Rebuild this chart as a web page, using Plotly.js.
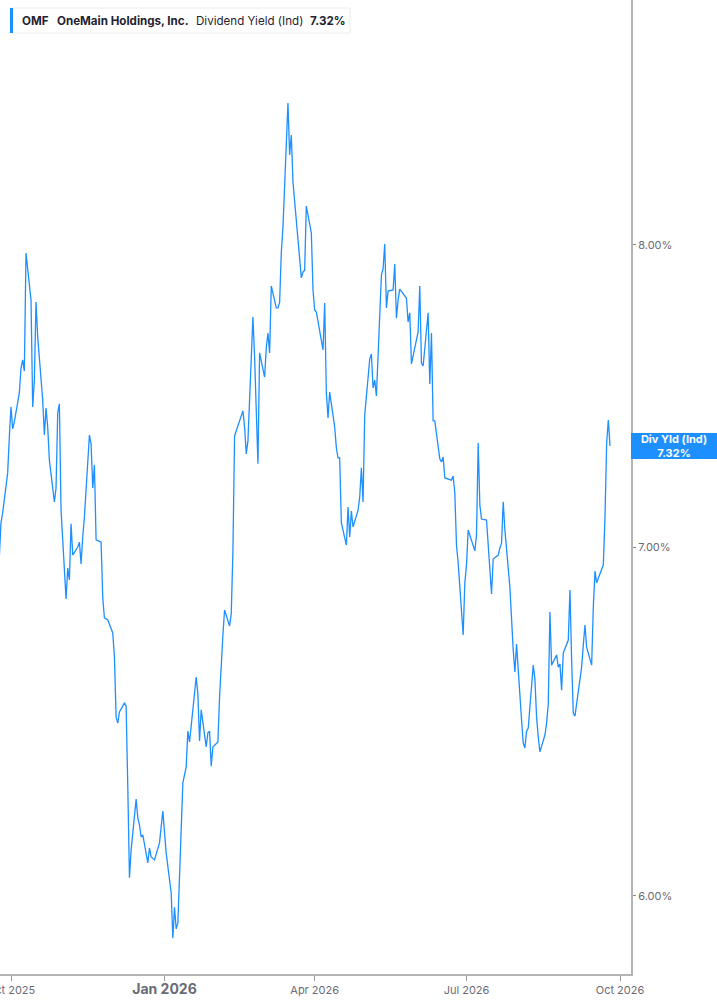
<!DOCTYPE html>
<html>
<head>
<meta charset="utf-8">
<script src="https://cdn.plot.ly/plotly-3.0.1.min.js"></script>
<style>
  html, body { margin: 0; padding: 0; background: #ffffff; }
  #chart { width: 717px; height: 1005px; }
</style>
</head>
<body>
<div id="chart"></div>
<script>
// Trading dates (Sep 24, 2025 – Sep 25, 2026)
const dates = [
  '2025-09-24','2025-09-25','2025-09-26','2025-09-29','2025-09-30',
  '2025-10-01','2025-10-02','2025-10-03','2025-10-06','2025-10-07','2025-10-08','2025-10-09','2025-10-10','2025-10-13','2025-10-14','2025-10-15','2025-10-16','2025-10-17','2025-10-20','2025-10-21','2025-10-22','2025-10-23','2025-10-24','2025-10-27','2025-10-28','2025-10-29','2025-10-30','2025-10-31',
  '2025-11-03','2025-11-04','2025-11-05','2025-11-06','2025-11-07','2025-11-10','2025-11-11','2025-11-12','2025-11-13','2025-11-14','2025-11-17','2025-11-18','2025-11-19','2025-11-20','2025-11-21','2025-11-24','2025-11-25','2025-11-26','2025-11-28',
  '2025-12-01','2025-12-02','2025-12-03','2025-12-04','2025-12-05','2025-12-08','2025-12-09','2025-12-10','2025-12-11','2025-12-12','2025-12-15','2025-12-16','2025-12-17','2025-12-18','2025-12-19','2025-12-22','2025-12-23','2025-12-24','2025-12-26','2025-12-29','2025-12-30','2025-12-31',
  '2026-01-02','2026-01-05','2026-01-06','2026-01-07','2026-01-08','2026-01-09','2026-01-12','2026-01-13','2026-01-14','2026-01-15','2026-01-16','2026-01-20','2026-01-21','2026-01-22','2026-01-23','2026-01-26','2026-01-27','2026-01-28','2026-01-29','2026-01-30',
  '2026-02-02','2026-02-03','2026-02-04','2026-02-05','2026-02-06','2026-02-09','2026-02-10','2026-02-11','2026-02-12','2026-02-13','2026-02-17','2026-02-18','2026-02-19','2026-02-20','2026-02-23','2026-02-24','2026-02-25','2026-02-26','2026-02-27',
  '2026-03-02','2026-03-03','2026-03-04','2026-03-05','2026-03-06','2026-03-09','2026-03-10','2026-03-11','2026-03-12','2026-03-13','2026-03-16','2026-03-17','2026-03-18','2026-03-19','2026-03-20','2026-03-23','2026-03-24','2026-03-25','2026-03-26','2026-03-27','2026-03-30','2026-03-31',
  '2026-04-01','2026-04-02','2026-04-06','2026-04-07','2026-04-08','2026-04-09','2026-04-10','2026-04-13','2026-04-14','2026-04-15','2026-04-16','2026-04-17','2026-04-20','2026-04-21','2026-04-22','2026-04-23','2026-04-24','2026-04-27','2026-04-28','2026-04-29','2026-04-30',
  '2026-05-01','2026-05-04','2026-05-05','2026-05-06','2026-05-07','2026-05-08','2026-05-11','2026-05-12','2026-05-13','2026-05-14','2026-05-15','2026-05-18','2026-05-19','2026-05-20','2026-05-21','2026-05-22','2026-05-26','2026-05-27','2026-05-28','2026-05-29',
  '2026-06-01','2026-06-02','2026-06-03','2026-06-04','2026-06-05','2026-06-08','2026-06-09','2026-06-10','2026-06-11','2026-06-12','2026-06-15','2026-06-16','2026-06-17','2026-06-18','2026-06-22','2026-06-23','2026-06-24','2026-06-25','2026-06-26','2026-06-29','2026-06-30',
  '2026-07-01','2026-07-02','2026-07-06','2026-07-07','2026-07-08','2026-07-09','2026-07-10','2026-07-13','2026-07-14','2026-07-15','2026-07-16','2026-07-17','2026-07-20','2026-07-21','2026-07-22','2026-07-23','2026-07-24','2026-07-27','2026-07-28','2026-07-29','2026-07-30','2026-07-31',
  '2026-08-03','2026-08-04','2026-08-05','2026-08-06','2026-08-07','2026-08-10','2026-08-11','2026-08-12','2026-08-13','2026-08-14','2026-08-17','2026-08-18','2026-08-19','2026-08-20','2026-08-21','2026-08-24','2026-08-25','2026-08-26','2026-08-27','2026-08-28','2026-08-31',
  '2026-09-01','2026-09-02','2026-09-03','2026-09-04','2026-09-08','2026-09-09','2026-09-10','2026-09-11','2026-09-14','2026-09-15','2026-09-16','2026-09-17','2026-09-18','2026-09-21','2026-09-22','2026-09-23','2026-09-24','2026-09-25'
];

// Dividend yield (%), one value per trading date
const yieldPct = [
  6.969, 7.075, 7.106, 7.233, 7.349,
  7.447, 7.375, 7.398, 7.493, 7.576, 7.603, 7.566, 7.971, 7.807, 7.447, 7.536, 7.800, 7.681, 7.470, 7.355, 7.443, 7.381, 7.274, 7.141, 7.185, 7.427, 7.457, 7.115,
  6.841, 6.935, 6.899, 7.072, 6.975, 7.000, 7.015, 6.948, 7.031, 7.093, 7.355, 7.326, 7.185, 7.258, 7.022, 7.015, 6.844, 6.784, 6.778,
  6.739, 6.668, 6.493, 6.476, 6.508, 6.534, 6.525, 6.296, 6.048, 6.123, 6.262, 6.210, 6.191, 6.158, 6.164, 6.088, 6.128, 6.104, 6.096, 6.142, 6.196, 6.229,
  6.115, 6.008, 5.889, 5.970, 5.913, 5.928, 6.307, 6.326, 6.352, 6.453, 6.422, 6.609, 6.560, 6.425, 6.514, 6.408, 6.448, 6.453, 6.354, 6.408,
  6.422, 6.551, 6.653, 6.733, 6.808, 6.760, 6.796, 6.985, 7.352, 7.368, 7.434, 7.381, 7.294, 7.336, 7.749, 7.613, 7.437, 7.262, 7.627,
  7.546, 7.643, 7.694, 7.627, 7.856, 7.780, 7.780, 7.800, 7.971, 8.063, 8.517, 8.324, 8.398, 8.225, 8.160, 7.971, 7.884, 7.904, 7.911, 8.138, 8.042, 7.842,
  7.773, 7.766, 7.637, 7.797, 7.493, 7.411, 7.496, 7.381, 7.313, 7.281, 7.281, 7.075, 7.006, 7.125, 7.031, 7.112, 7.062, 7.115, 7.156, 7.249, 7.141,
  7.420, 7.606, 7.623, 7.510, 7.536, 7.483, 7.894, 7.915, 8.003, 7.780, 7.838, 7.842, 7.932, 7.745, 7.807, 7.845, 7.814, 7.732, 7.763, 7.590,
  7.671, 7.698, 7.856, 7.593, 7.583, 7.763, 7.523, 7.694, 7.401, 7.401, 7.278, 7.268, 7.284, 7.217, 7.210, 7.223, 7.169, 7.006, 6.951, 6.733, 6.890,
  6.945, 7.053, 6.988, 7.037, 7.329, 7.131, 7.087, 7.084, 7.000, 6.926, 6.856, 6.963, 6.975, 6.997, 7.012, 7.141, 7.053, 6.877, 6.757, 6.689, 6.624, 6.706,
  6.485, 6.419, 6.405, 6.453, 6.462, 6.644, 6.603, 6.493, 6.436, 6.394, 6.442, 6.476, 6.531, 6.802, 6.644, 6.674, 6.638, 6.647, 6.571, 6.680, 6.718,
  6.868, 6.659, 6.505, 6.496, 6.638, 6.703, 6.763, 6.697, 6.644, 6.817, 6.926, 6.890, 6.905, 6.945, 7.093, 7.329, 7.404, 7.320
];

const xTickVals = ['2025-10-01', '2026-01-01', '2026-04-01', '2026-07-01', '2026-10-01'];
const xTickText = ['Oct 2025', '<span style="font-size:14px"><b>Jan 2026</b></span>', 'Apr 2026', 'Jul 2026', 'Oct 2026'];
const yTickVals = [6, 7, 8];
const yTickText = ['6.00%', '7.00%', '8.00%'];

const ticker = 'OMF';
const company = 'OneMain Holdings, Inc.';
const metric = 'Dividend Yield (Ind)';
const shortMetric = 'Div Yld (Ind)';

const BLUE = '#1e8fff';
const AXIS = '#b4b4b4';
const TXT = '#6b6b76';
const FONT = 'Inter, Roboto, "Open Sans", sans-serif';

const last = yieldPct[yieldPct.length - 1];
const lastTxt = last.toFixed(2) + '%';

const trace = {
  x: dates,
  y: yieldPct,
  type: 'scatter',
  mode: 'lines',
  line: { color: BLUE, width: 1.3 },
  hoverinfo: 'skip',
  showlegend: false
};

const legendY = 1 - 21 / 974;
function legendText(text, px) {
  return {
    xref: 'paper', yref: 'paper', x: px / 631, y: legendY,
    xanchor: 'left', yanchor: 'middle', showarrow: false,
    text: text, font: { family: FONT, size: 11.6, color: '#1f2430' }
  };
}

const layout = {
  width: 717, height: 1005,
  margin: { l: 0, r: 86, t: 0, b: 31, pad: 0 },
  paper_bgcolor: '#ffffff', plot_bgcolor: '#ffffff',
  font: { family: FONT, size: 11, color: TXT },
  showlegend: false,
  xaxis: {
    type: 'date',
    range: ['2025-09-24 09:50', '2026-10-07 14:10'],
    tickmode: 'array', tickvals: xTickVals, ticktext: xTickText,
    ticks: 'outside', ticklen: 5, tickwidth: 1, tickcolor: '#9a9a9a',
    showline: true, linecolor: AXIS, linewidth: 2,
    showgrid: false, zeroline: false,
    tickfont: { family: FONT, size: 11, color: TXT },
    ticklabeloverflow: 'allow',
    fixedrange: true
  },
  yaxis: {
    type: 'log', side: 'right',
    range: [0.763151, 0.950074],
    tickmode: 'array', tickvals: yTickVals, ticktext: yTickText,
    ticks: 'outside', ticklen: 3, tickwidth: 1, tickcolor: '#8a8a8a',
    showline: true, linecolor: AXIS, linewidth: 2,
    showgrid: false, zeroline: false,
    tickfont: { family: FONT, size: 11, color: TXT },
    fixedrange: true
  },
  shapes: [
    { type: 'rect', xref: 'paper', yref: 'paper', xsizemode: 'pixel', ysizemode: 'pixel',
      xanchor: 0, yanchor: 1, x0: 10, x1: 350, y0: -8, y1: -33,
      fillcolor: '#ffffff', line: { color: '#ececec', width: 1 } },
    { type: 'rect', xref: 'paper', yref: 'paper', xsizemode: 'pixel', ysizemode: 'pixel',
      xanchor: 0, yanchor: 1, x0: 10, x1: 13, y0: -8, y1: -33,
      fillcolor: BLUE, line: { width: 0 } }
  ],
  annotations: [
    legendText('<b>' + ticker + '</b>', 20),
    legendText('<b>' + company + '</b>', 55),
    legendText(metric, 194),
    legendText('<b>' + lastTxt + '</b>', 308),
    {
      xref: 'paper', yref: 'y', x: 1, y: Math.log10(last),
      xanchor: 'left', yanchor: 'middle', showarrow: false,
      width: 84, height: 24, borderpad: 0, borderwidth: 1,
      bgcolor: BLUE, bordercolor: BLUE, align: 'center',
      text: '<b>' + shortMetric + '</b><br><b>' + lastTxt + '</b>',
      font: { family: FONT, size: 11, color: '#ffffff' }
    }
  ]
};

Plotly.newPlot('chart', [trace], layout, { displayModeBar: false, staticPlot: true });
</script>
</body>
</html>
